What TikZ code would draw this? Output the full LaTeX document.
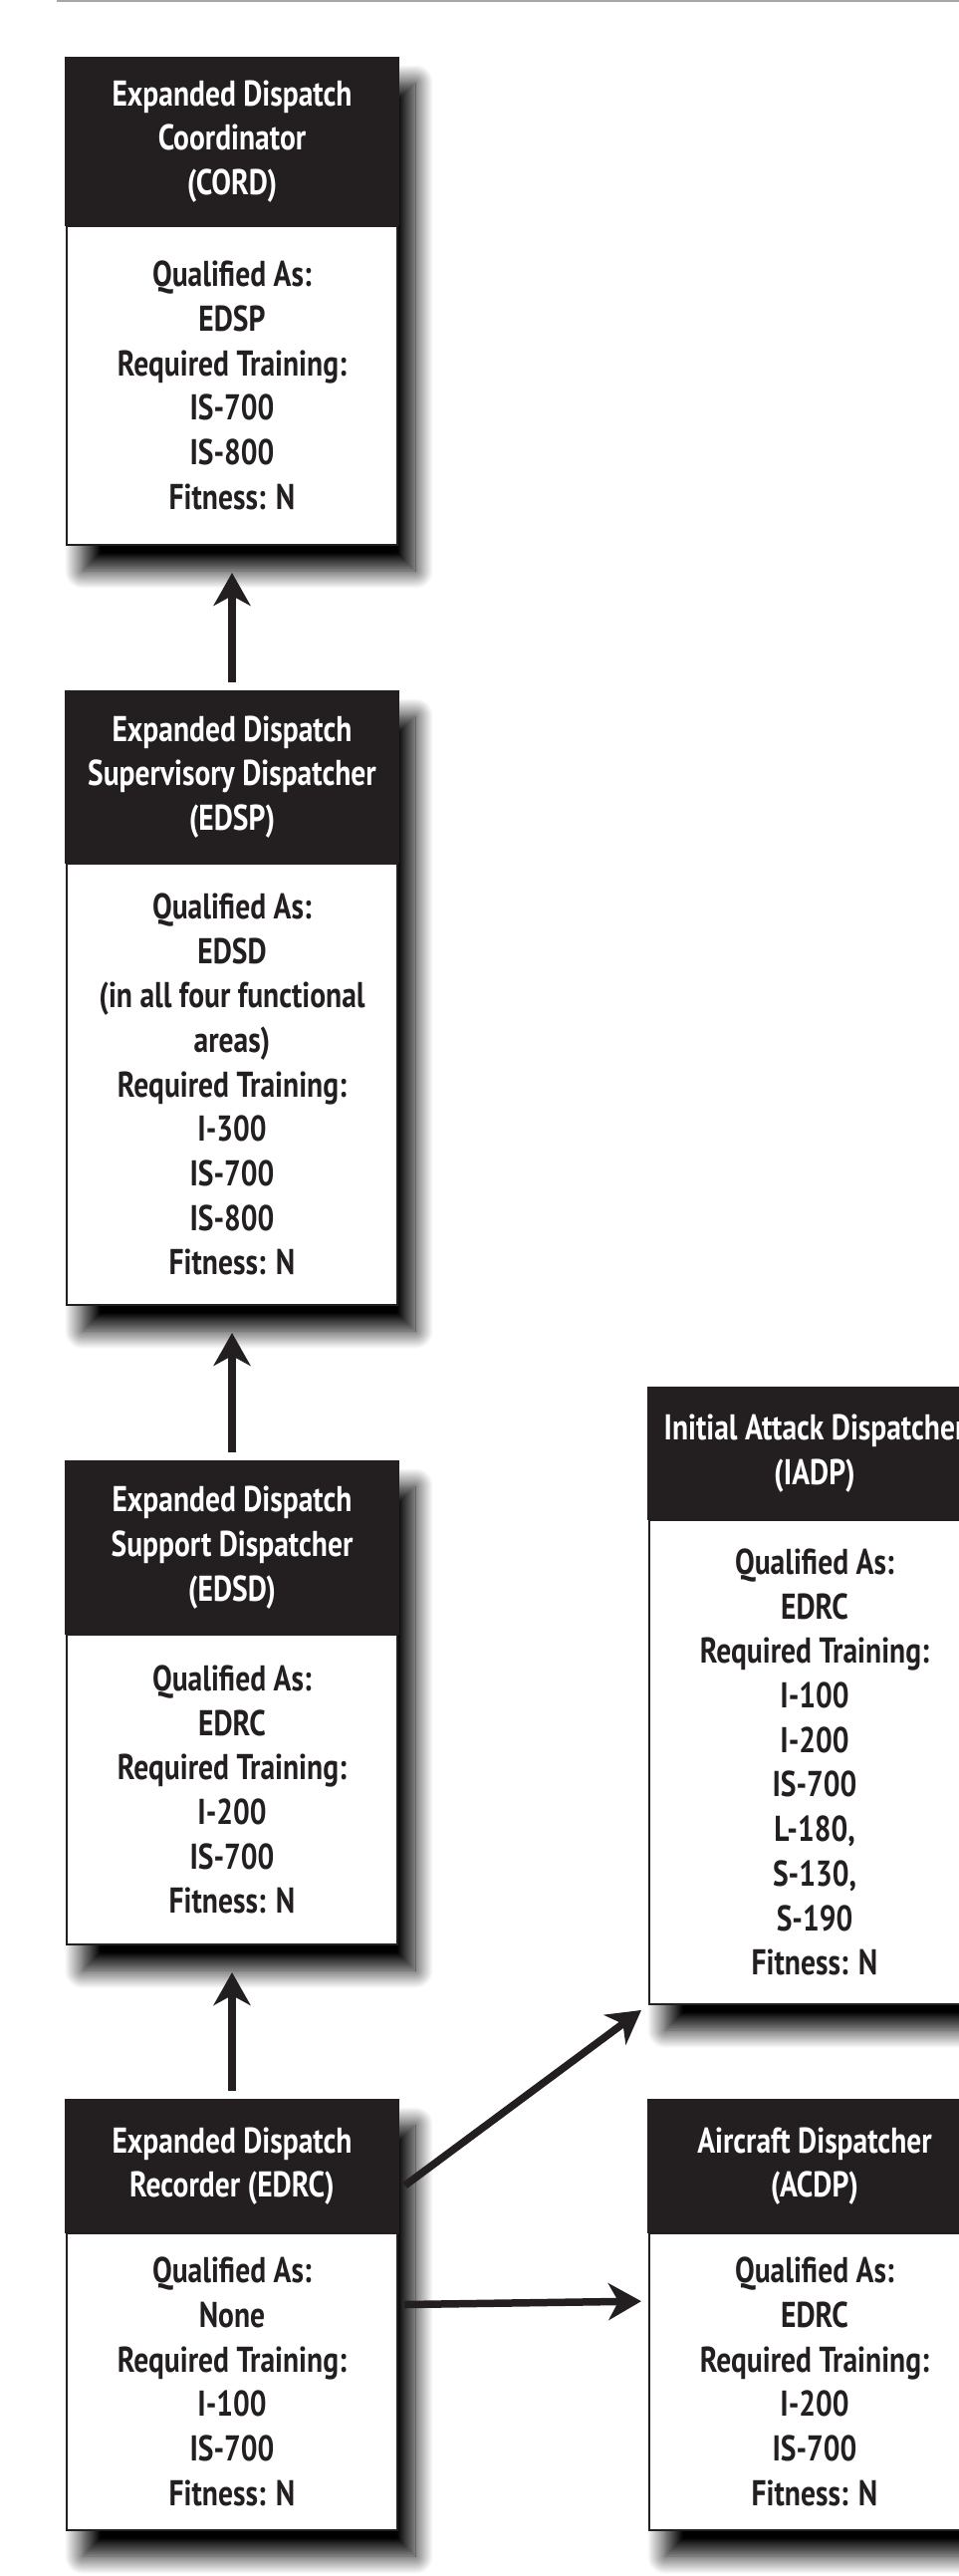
\documentclass[tikz,border=0pt]{standalone}
\usepackage{xcolor}
\usepackage{fontspec}
\usepackage{tikz}
\usetikzlibrary{arrows.meta}
\usetikzlibrary{positioning}
\usetikzlibrary{backgrounds}
\usetikzlibrary{shadows.blur}
\newfontfamily\boxfont{PT Sans}[FakeStretch=0.82]
\definecolor{ink}{HTML}{231F20}

\begin{document}
\begin{tikzpicture}[x=1pt, y=-1pt,
    every node/.style={inner sep=0pt, outer sep=0pt, align=center,
      font=\boxfont\bfseries\fontsize{36}{44.7}\selectfont},
    head/.style={fill=ink, text=white, minimum width=336pt},
    body/.style={draw=ink, line width=2.5pt, fill=white, text=ink, minimum width=332pt},
    boxshadow/.style={blur shadow={shadow xshift=18pt, shadow yshift=-26pt,
      shadow blur radius=18pt, shadow blur steps=24, shadow opacity=100}},
    arr/.style={line width=7.5pt, color=ink, shorten <=8pt, shorten >=28pt,
      -{Stealth[length=33pt, width=37pt, inset=10pt]}}]
    \useasboundingbox (0,0) rectangle (963,2586);
    \draw[line width=1.5pt, black!35] (57,1) -- (963,1);

    \node[head, minimum height=170pt] (hcord) at (233,142) {Expanded Dispatch\\Coordinator\\(CORD)};
    \node[body, minimum height=320pt, below=0pt of hcord] (cord) {Qualified As:\\EDSP\\Required Training:\\IS-700\\IS-800\\Fitness: N};

    \node[head, minimum height=174pt] (hedsp) at (233,780) {Expanded Dispatch\\Supervisory Dispatcher\\(EDSP)};
    \node[body, minimum height=443pt, below=0pt of hedsp] (edsp) {Qualified As:\\EDSD\\(in all four functional\\areas)\\Required Training:\\I-300\\IS-700\\IS-800\\Fitness: N};

    \node[head, minimum height=175pt] (hedsd) at (233,1553.5) {Expanded Dispatch\\Support Dispatcher\\(EDSD)};
    \node[body, minimum height=311pt, below=0pt of hedsd] (edsd) {Qualified As:\\EDRC\\Required Training:\\I-200\\IS-700\\Fitness: N};

    \node[head, minimum height=135pt] (hedrc) at (233,2174.5) {Expanded Dispatch\\Recorder (EDRC)};
    \node[body, minimum height=298pt, below=0pt of hedrc] (edrc) {Qualified As:\\None\\Required Training:\\I-100\\IS-700\\Fitness: N};

    \node[head, minimum height=134pt] (hiadp) at (818,1459) {Initial Attack Dispatcher\\(IADP)};
    \node[body, minimum height=486pt, below=0pt of hiadp] (iadp) {Qualified As:\\EDRC\\Required Training:\\I-100\\I-200\\IS-700\\L-180,\\S-130,\\S-190\\Fitness: N};

    \node[head, minimum height=135pt] (hacdp) at (818,2174.5) {Aircraft Dispatcher\\(ACDP)};
    \node[body, minimum height=298pt, below=0pt of hacdp] (acdp) {Qualified As:\\EDRC\\Required Training:\\I-200\\IS-700\\Fitness: N};

    \begin{scope}[on background layer]
      \foreach \b in {cord,edsp,edsd,edrc,iadp,acdp}
        \path[boxshadow] (h\b.north west) rectangle (\b.south east);
    \end{scope}

    \path [arr] (hedsp) edge (cord);
    \path [arr] (hedsd) edge (edsp);
    \path [arr] (hedrc) edge (edsd);
    \path [arr, shorten <=7pt, shorten >=10pt] (hedrc.-8.6) edge (iadp.south west);
    \path [arr, shorten <=7pt, shorten >=8pt] (edrc.25.45) edge (acdp.154.55);
  \end{tikzpicture}
\end{document}
